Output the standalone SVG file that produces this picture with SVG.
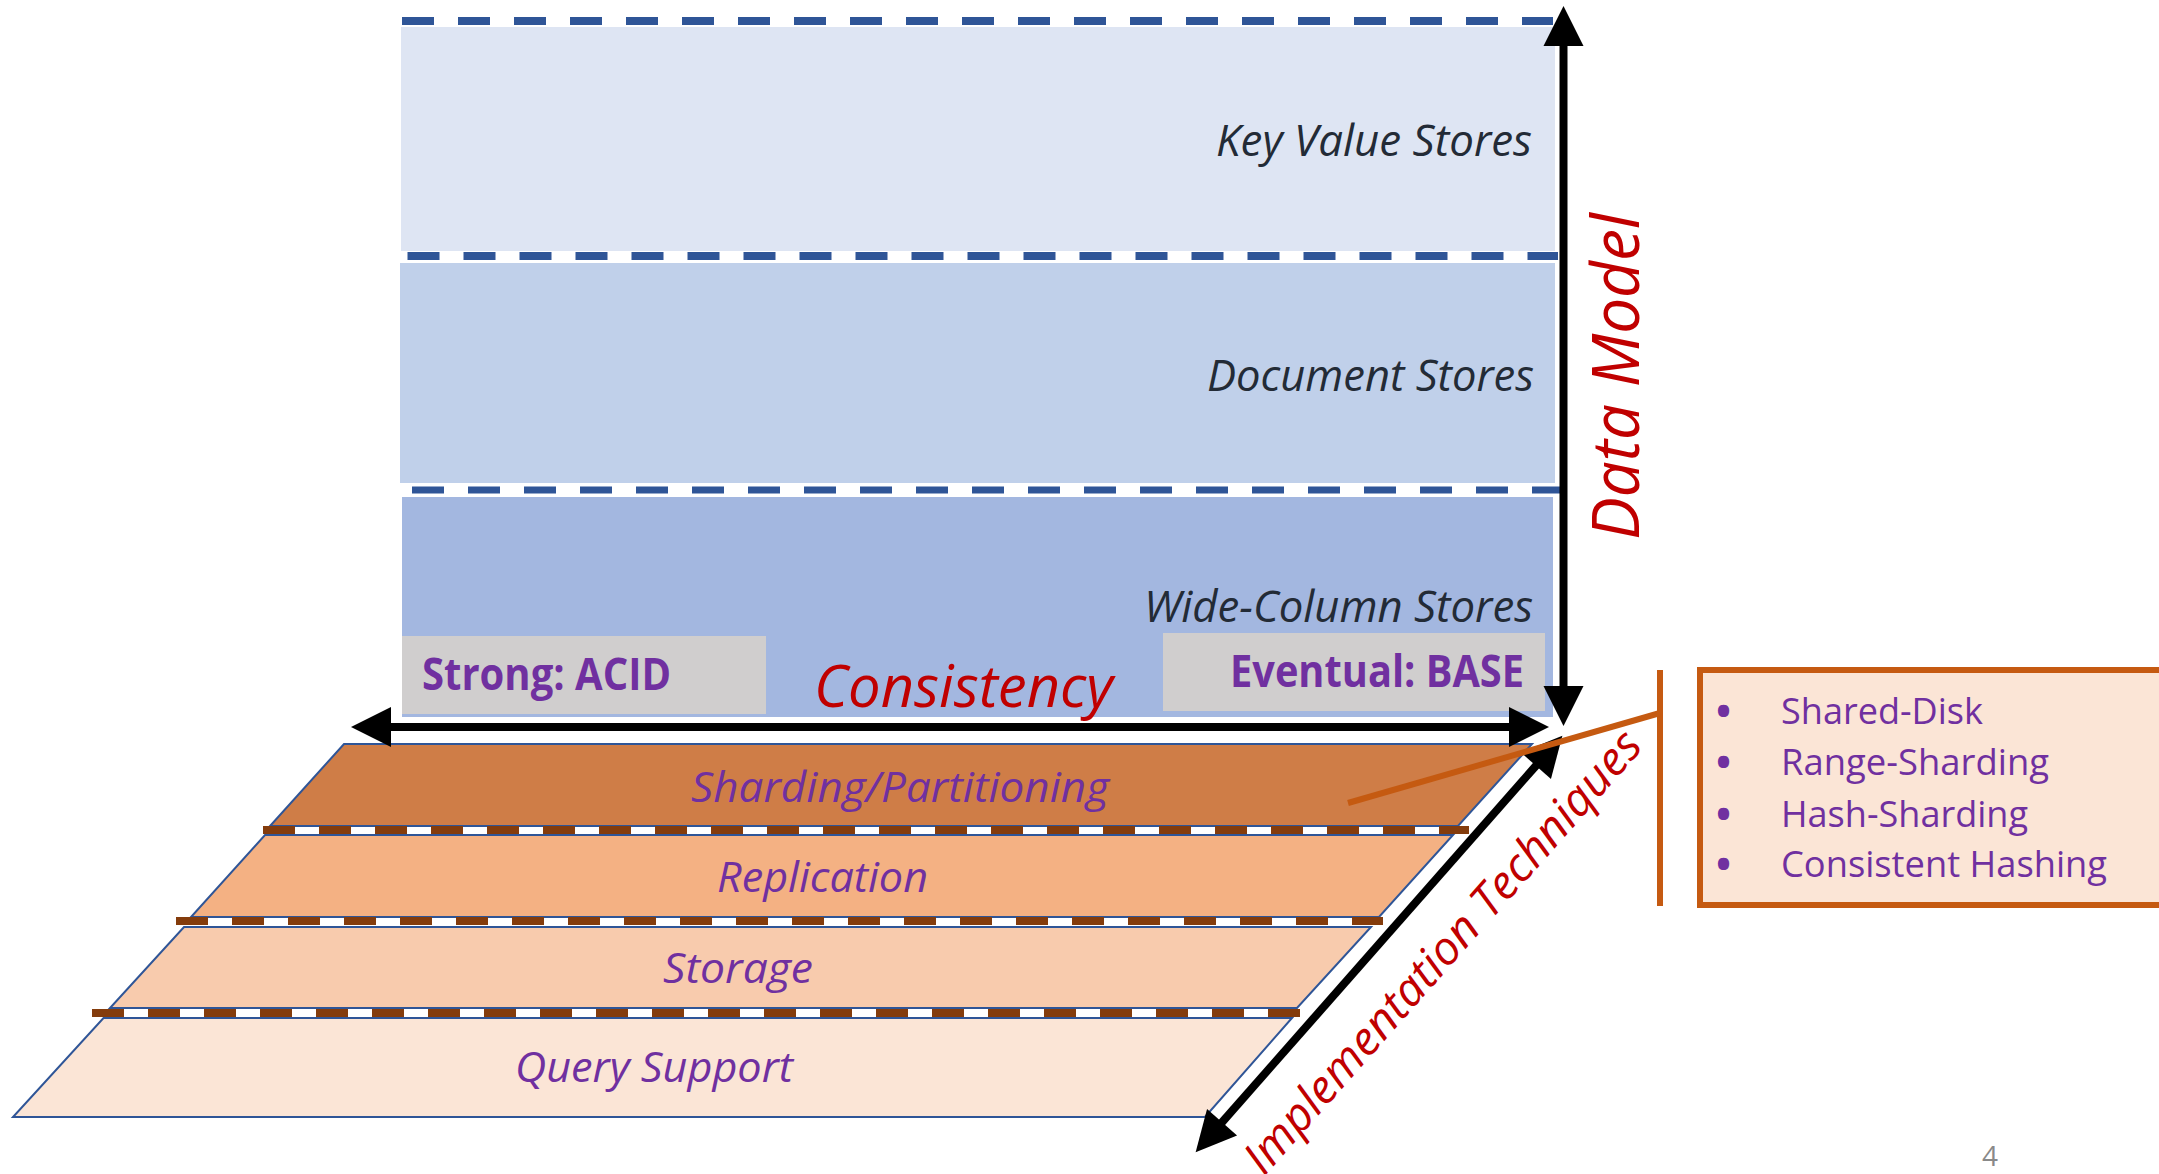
<svg xmlns="http://www.w3.org/2000/svg" width="2159" height="1174" viewBox="0 0 2159 1174">
<style>
.lbl{font-family:"Open Sans","Liberation Sans",sans-serif;font-style:italic;font-size:43px;fill:#232B36}
.lay{font-family:"Open Sans","Liberation Sans",sans-serif;font-style:italic;font-size:42px;fill:#7030A0}
.cons{font-family:"Open Sans","Liberation Sans",sans-serif;font-weight:bold;font-size:44px;fill:#7030A0}
.axis{font-family:"Open Sans","Liberation Sans",sans-serif;font-style:italic;fill:#C00000}
.bul{font-family:"Open Sans","Liberation Sans",sans-serif;font-size:37px;fill:#7030A0}
.dot{font-family:"Open Sans","Liberation Sans",sans-serif;font-size:40px;font-weight:bold;fill:#7030A0}
.bdash{fill:none;stroke:#2F5597;stroke-dasharray:32 24}
.rdash{fill:none;stroke:#843C0C;stroke-width:8;stroke-dasharray:32 24}
.trap{stroke:#2F5597;stroke-width:2}
.grey{fill:#D0CECE}
.arr{stroke:#000;stroke-width:8;fill:none;marker-start:url(#ah);marker-end:url(#ah)}
.org{stroke:#C55A11;stroke-width:6;fill:none}
</style>
<defs>
<marker id="ah" markerUnits="userSpaceOnUse" markerWidth="44" markerHeight="44" viewBox="-2 -22 44 44" refX="1" refY="0" orient="auto-start-reverse">
<path d="M0,-20 L40,0 L0,20 z" fill="#000"/>
</marker>
</defs>
<rect width="2159" height="1174" fill="#fff"/>

<g id="key-value">
<rect x="401" y="27" width="1154" height="224" fill="#DEE5F3"/>
<text class="lbl" x="1216" y="156" textLength="316" lengthAdjust="spacingAndGlyphs">Key Value Stores</text>
</g>
<g id="document">
<rect x="400" y="263" width="1155" height="220" fill="#C0D0EA"/>
<text class="lbl" x="1207" y="391" textLength="327" lengthAdjust="spacingAndGlyphs">Document Stores</text>
</g>
<g id="wide-column">
<rect x="402" y="497" width="1151" height="220" fill="#A3B7E0"/>
<text class="lbl" x="1144" y="622" textLength="389" lengthAdjust="spacingAndGlyphs">Wide-Column Stores</text>
</g>
<g id="separators">
<line class="bdash" x1="402" y1="21" x2="1553" y2="21" stroke-width="8"/>
<line class="bdash" x1="407.5" y1="256" x2="1558" y2="256" stroke-width="8"/>
<line class="bdash" x1="412" y1="490" x2="1563" y2="490" stroke-width="7"/>
</g>
<g id="strong-acid">
<rect class="grey" x="402" y="636" width="364" height="78"/>
<text class="cons" x="422" y="690" textLength="249" lengthAdjust="spacingAndGlyphs">Strong: ACID</text>
</g>
<g id="eventual-base">
<rect class="grey" x="1163" y="633" width="382" height="78"/>
<text class="cons" x="1230" y="687" textLength="294" lengthAdjust="spacingAndGlyphs">Eventual: BASE</text>
</g>

<g id="sharding">
<polygon class="trap" points="344,744 1532,744 1458,826 270,826" fill="#CF7D47"/>
<text class="lay" x="691" y="802" textLength="418" lengthAdjust="spacingAndGlyphs">Sharding/Partitioning</text>
</g>
<g id="replication">
<polygon class="trap" points="265,835 1453,835 1379,917 191,917" fill="#F4B183"/>
<text class="lay" x="717" y="892" textLength="211" lengthAdjust="spacingAndGlyphs">Replication</text>
</g>
<g id="storage">
<polygon class="trap" points="184,927 1371,927 1297,1008 110,1008" fill="#F8CBAD"/>
<text class="lay" x="663" y="983" textLength="150" lengthAdjust="spacingAndGlyphs">Storage</text>
</g>
<g id="query-support">
<polygon class="trap" points="103.5,1018 1292,1018 1205,1117 13,1117" fill="#FBE5D6"/>
<text class="lay" x="515" y="1082" textLength="278" lengthAdjust="spacingAndGlyphs">Query Support</text>
</g>
<g id="layer-separators">
<line class="rdash" x1="263" y1="830" x2="1469" y2="830"/>
<line class="rdash" x1="176" y1="921" x2="1383" y2="921"/>
<line class="rdash" x1="92" y1="1013" x2="1300" y2="1013"/>
</g>

<g id="sharding-techniques">
<rect x="1700" y="670" width="480" height="235" fill="#FBE5D6" stroke="#C55A11" stroke-width="6"/>
<text class="dot" x="1716" y="725">•</text>
<text class="bul" x="1781" y="724" textLength="202" lengthAdjust="spacingAndGlyphs">Shared-Disk</text>
<text class="dot" x="1716" y="776">•</text>
<text class="bul" x="1781" y="775" textLength="268" lengthAdjust="spacingAndGlyphs">Range-Sharding</text>
<text class="dot" x="1716" y="828">•</text>
<text class="bul" x="1781" y="827" textLength="247" lengthAdjust="spacingAndGlyphs">Hash-Sharding</text>
<text class="dot" x="1716" y="878">•</text>
<text class="bul" x="1781" y="877" textLength="326" lengthAdjust="spacingAndGlyphs">Consistent Hashing</text>
</g>

<g id="axis-labels">
<text class="axis" x="814" y="707" font-size="58" textLength="299" lengthAdjust="spacingAndGlyphs">Consistency</text>
<text class="axis" transform="translate(1639,540) rotate(-90)" font-size="66" textLength="327" lengthAdjust="spacingAndGlyphs">Data Model</text>
<text class="axis" transform="translate(1264,1177) rotate(-48.5)" font-size="46" textLength="574" lengthAdjust="spacingAndGlyphs">Implementation Techniques</text>
</g>

<g id="connectors">
<line class="arr" x1="390" y1="727" x2="1510" y2="727"/>
<line class="arr" x1="1563.5" y1="45" x2="1563.5" y2="687"/>
<line class="arr" x1="1221.4" y1="1123" x2="1536.6" y2="765"/>
<line class="org" x1="1660" y1="670" x2="1660" y2="906"/>
<line class="org" x1="1348" y1="803" x2="1660" y2="713"/>
</g>

<text x="1982" y="1166" font-family="'Open Sans','Liberation Sans',sans-serif" font-size="28" fill="#898989">4</text>
</svg>
